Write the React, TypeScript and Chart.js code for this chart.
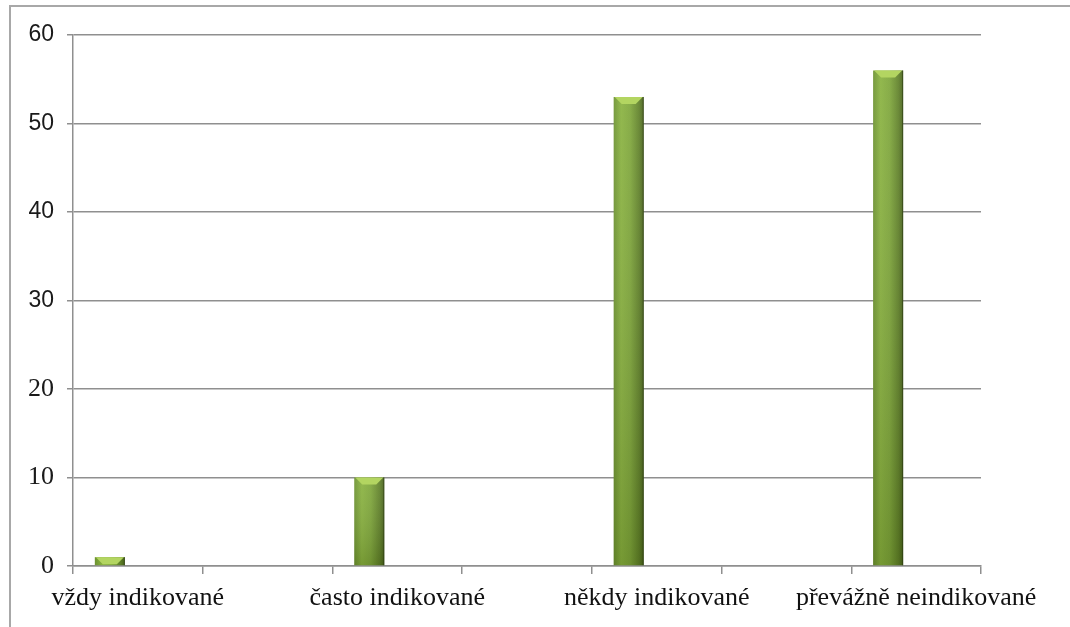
import React, { useEffect, useRef } from "react";
import { Chart, registerables } from "chart.js";

Chart.register(...registerables);

const categories = [
  "vždy indikované",
  "",
  "často indikované",
  "",
  "někdy indikované",
  "",
  "převážně neindikované",
];
const seriesValues = [1, null, 10, null, 53, null, 56];
const emptySeries = [null, null, null, null, null, null, null];
const yTicks = [0, 10, 20, 30, 40, 50, 60];

const SERIF = "'Liberation Serif', 'Times New Roman', serif";
const SANS = "'Liberation Sans', Arial, sans-serif";

const barStyle = {
  id: "barStyle",
  beforeDatasetDraw(chart: any, args: any) {
    if (args.index !== 0) return;
    const ctx = chart.ctx;
    const meta = args.meta;
    meta.data.forEach((el: any) => {
      if (el.skip || el.x == null || isNaN(el.y)) return;
      const w = el.width;
      const g = ctx.createLinearGradient(el.x - w / 2, 0, el.x + w / 2, 0);
      g.addColorStop(0, "#6c9230");
      g.addColorStop(0.25, "#89b23f");
      g.addColorStop(0.55, "#7ea63a");
      g.addColorStop(0.85, "#5f8028");
      g.addColorStop(1, "#46601b");
      el.options = Object.assign({}, el.options, { backgroundColor: g });
    });
  },
  afterDatasetDraw(chart: any, args: any) {
    if (args.index !== 0) return;
    const ctx = chart.ctx;
    const meta = args.meta;
    ctx.save();
    meta.data.forEach((el: any) => {
      if (el.skip || el.x == null || isNaN(el.y)) return;
      const w = el.width;
      const left = el.x - w / 2;
      const right = el.x + w / 2;
      const top = el.y;
      const bottom = el.base;
      const h = bottom - top;
      // vertical darkening toward base
      if (h > 20) {
        const vg = ctx.createLinearGradient(0, top, 0, bottom);
        vg.addColorStop(0, "rgba(255,255,255,0.08)");
        vg.addColorStop(1, "rgba(30,40,0,0.18)");
        ctx.fillStyle = vg;
        ctx.fillRect(left, top, w, h);
      }
      // top bevel cap
      const capH = Math.min(7, h);
      ctx.fillStyle = "#b3d561";
      ctx.beginPath();
      ctx.moveTo(left + 1, top);
      ctx.lineTo(right - 1, top);
      ctx.lineTo(el.x + 7, top + capH);
      ctx.lineTo(el.x - 7, top + capH);
      ctx.closePath();
      ctx.fill();
      // dark edge on right
      ctx.strokeStyle = "rgba(40,55,15,0.6)";
      ctx.lineWidth = 1;
      ctx.beginPath();
      ctx.moveTo(right - 0.5, top);
      ctx.lineTo(right - 0.5, bottom);
      ctx.stroke();
    });
    ctx.restore();
  },
};

export default function App() {
  const ref = useRef<HTMLCanvasElement>(null);

  useEffect(() => {
    if (!ref.current) return;
    const chart = new Chart(ref.current, {
      type: "bar",
      data: {
        labels: categories,
        datasets: [
          {
            label: "Série 1",
            data: seriesValues,
            backgroundColor: "#7ea63a",
            borderWidth: 0,
          },
          {
            label: "Série 2",
            data: emptySeries,
            backgroundColor: "#4f81bd",
            borderWidth: 0,
          },
        ],
      },
      options: {
        responsive: false,
        animation: false,
        events: [],
        categoryPercentage: 0.864,
        barPercentage: 0.536,
        layout: { padding: { left: 0, top: 35, right: 89, bottom: 0 } },
        plugins: {
          legend: { display: false },
          tooltip: { enabled: false },
          title: { display: false },
        },
        scales: {
          x: {
            grid: {
              display: true,
              offset: true,
              drawOnChartArea: false,
              drawTicks: true,
              tickLength: 8,
              color: "#8f8f8f",
              lineWidth: 1.5,
            },
            border: { display: true, color: "#8f8f8f", width: 1.5 },
            ticks: {
              autoSkip: false,
              maxRotation: 0,
              minRotation: 0,
              padding: 9,
              color: "#111",
              font: { family: SERIF, size: 26 },
            },
            afterFit(scale: any) {
              scale.height = 61;
            },
          },
          y: {
            min: 0,
            max: 60,
            afterBuildTicks(scale: any) {
              scale.ticks = yTicks.map((v) => ({ value: v }));
            },
            grid: {
              color: "#8f8f8f",
              lineWidth: 1.5,
              drawTicks: true,
              tickLength: 6,
            },
            border: { display: true, color: "#8f8f8f", width: 1.5 },
            ticks: {
              padding: 13,
              color: "#1a1a1a",
              font: (c: any) =>
                c.tick && c.tick.value >= 30
                  ? { family: SANS, size: 23 }
                  : { family: SERIF, size: 26 },
            },
            afterFit(scale: any) {
              scale.width = 73;
            },
          },
        },
      },
      plugins: [barStyle],
    });
    return () => chart.destroy();
  }, []);

  return (
    <div
      style={{
        position: "fixed",
        left: 0,
        top: 0,
        width: 1070,
        height: 627,
        overflow: "hidden",
        background: "#fff",
      }}
    >
      <div
        style={{
          position: "absolute",
          left: 9,
          top: 5,
          width: 1200,
          height: 800,
          borderLeft: "2px solid #a8a8a8",
          borderTop: "2px solid #a8a8a8",
        }}
      />
      <canvas
        ref={ref}
        width={1070}
        height={627}
        style={{ position: "absolute", left: 0, top: 0, display: "block" }}
      />
    </div>
  );
}
